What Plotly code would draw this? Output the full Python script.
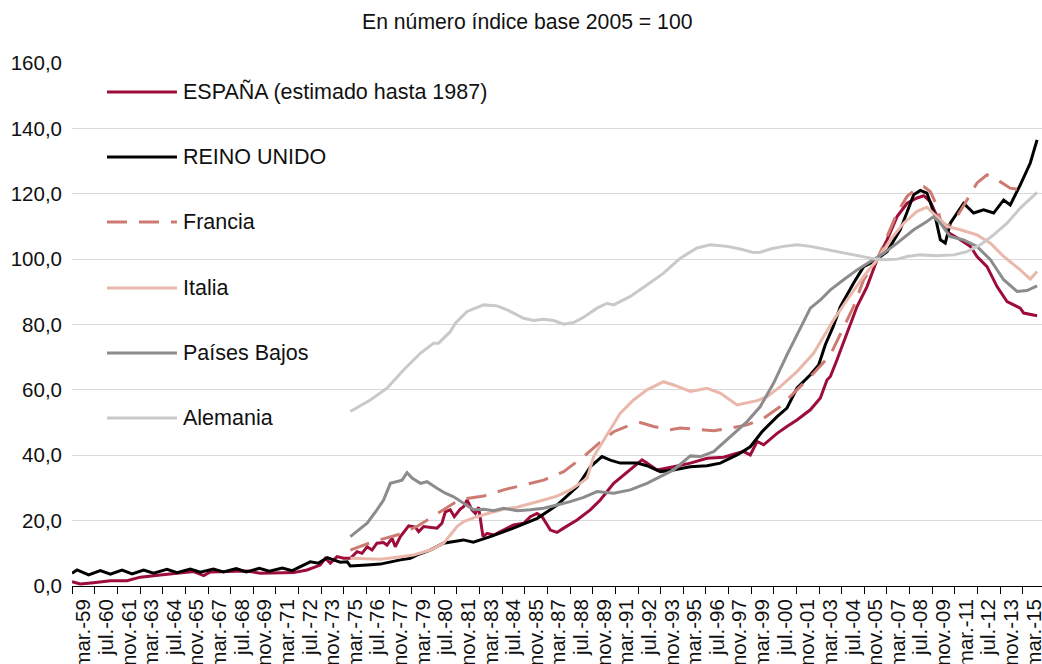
import plotly.graph_objects as go

# ---------------- data (time as decimal year, value = index 2005=100) ----------------
espana = [
    (1958.48, 1.3), (1958.97, 0.6), (1959.75, 1.0), (1960.74, 1.6), (1961.72, 1.6),
    (1962.51, 2.7), (1963.69, 3.4), (1964.67, 3.9), (1965.65, 4.4), (1966.24, 3.2),
    (1966.63, 4.3), (1967.62, 4.4), (1968.79, 4.6), (1969.58, 3.9), (1970.56, 3.9),
    (1971.54, 4.1), (1972.33, 4.9), (1973.11, 6.4), (1973.41, 8.5), (1973.70, 7.0),
    (1974.10, 9.0), (1974.49, 8.5), (1974.88, 8.5), (1975.28, 10.5), (1975.57, 10.0),
    (1975.87, 12.0), (1976.16, 11.0), (1976.45, 13.1), (1976.84, 13.3), (1977.04, 12.5),
    (1977.34, 14.6), (1977.53, 12.0), (1977.83, 15.1), (1978.32, 18.4), (1978.71, 18.0),
    (1978.91, 16.6), (1979.20, 18.2), (1979.60, 18.0), (1979.99, 17.7), (1980.28, 19.2),
    (1980.48, 22.7), (1980.77, 23.3), (1981.01, 21.2), (1981.36, 23.5), (1981.56, 24.3),
    (1981.76, 26.3), (1982.05, 23.3), (1982.25, 22.2), (1982.44, 24.1), (1982.70, 15.1),
    (1982.94, 16.1), (1983.33, 15.6), (1983.91, 17.1), (1984.50, 18.7), (1985.09, 19.2),
    (1985.49, 21.2), (1985.88, 22.2), (1986.18, 21.2), (1986.67, 17.1), (1987.06, 16.4),
    (1987.45, 17.7), (1988.24, 20.2), (1989.02, 23.3), (1989.61, 26.3), (1990.40, 31.4),
    (1991.38, 35.5), (1992.07, 38.6), (1992.36, 37.6), (1992.95, 35.5), (1993.93, 36.5),
    (1994.92, 37.6), (1995.90, 39.1), (1996.88, 39.4), (1997.67, 40.6), (1998.06, 41.1),
    (1998.45, 40.1), (1998.85, 44.2), (1999.24, 43.2), (2000.03, 46.7), (2000.61, 48.8),
    (2001.20, 50.8), (2001.99, 53.9), (2002.58, 57.5), (2002.97, 63.0), (2003.17, 64.1),
    (2003.56, 69.2), (2004.15, 77.3), (2004.74, 85.5), (2005.33, 91.6), (2005.92, 99.8),
    (2006.51, 105.9), (2007.10, 113.0), (2007.69, 117.1), (2008.28, 118.7), (2008.67, 119.4),
    (2009.06, 117.6), (2009.46, 113.0), (2010.04, 108.4), (2010.83, 105.9), (2011.42, 103.9),
    (2011.81, 100.8), (2012.40, 97.7), (2012.99, 91.6), (2013.58, 87.0), (2014.36, 85.0),
    (2014.56, 83.5), (2015.35, 82.7),
]

reino_unido = [
    (1958.48, 3.9), (1958.78, 4.9), (1959.46, 3.4), (1960.15, 4.7), (1960.74, 3.6),
    (1961.43, 4.9), (1962.02, 3.7), (1962.70, 4.9), (1963.29, 3.9), (1964.08, 5.1),
    (1964.67, 4.1), (1965.45, 5.2), (1966.04, 4.2), (1966.81, 5.2), (1967.40, 4.3),
    (1968.16, 5.3), (1968.75, 4.3), (1969.52, 5.4), (1970.11, 4.5), (1970.87, 5.5),
    (1971.46, 4.7), (1971.93, 5.8), (1972.52, 7.4), (1973.00, 7.0), (1973.53, 8.7),
    (1973.88, 8.0), (1974.29, 7.3), (1974.70, 7.4), (1974.88, 6.1), (1975.88, 6.4),
    (1976.65, 6.7), (1977.83, 8.0), (1978.42, 8.5), (1978.83, 9.5), (1979.59, 11.0),
    (1980.36, 13.1), (1981.54, 14.1), (1982.13, 13.4), (1983.13, 15.1), (1984.49, 17.7),
    (1985.90, 20.7), (1987.08, 24.8), (1988.26, 30.4), (1989.03, 36.5), (1989.71, 39.6),
    (1990.20, 38.5), (1990.79, 37.6), (1991.78, 37.6), (1992.36, 36.8), (1993.15, 35.0),
    (1993.93, 35.5), (1994.91, 36.5), (1995.90, 36.8), (1996.68, 37.6), (1997.67, 40.1),
    (1998.45, 42.6), (1999.14, 47.2), (2000.03, 51.8), (2000.61, 54.4), (2001.20, 60.5),
    (2001.99, 64.6), (2002.48, 67.6), (2002.87, 73.8), (2003.34, 79.4), (2003.76, 85.5),
    (2004.54, 92.7), (2005.13, 97.7), (2005.72, 99.3), (2006.51, 102.3), (2007.29, 109.0),
    (2008.08, 119.7), (2008.47, 121.0), (2008.86, 120.2), (2009.35, 113.0), (2009.65, 105.9),
    (2009.94, 104.9), (2010.24, 111.0), (2011.02, 117.1), (2011.61, 114.1), (2012.20, 115.1),
    (2012.79, 114.1), (2013.38, 118.1), (2013.77, 116.6), (2014.36, 122.7), (2014.95, 129.4),
    (2015.35, 136.5),
]

francia = [
    (1974.88, 11.0), (1976.25, 13.6), (1977.63, 15.6), (1978.81, 18.2), (1980.18, 22.7),
    (1980.97, 25.3), (1981.76, 26.8), (1982.74, 27.5), (1983.91, 29.4), (1985.09, 30.9),
    (1986.27, 32.4), (1987.45, 35.0), (1988.63, 39.6), (1989.42, 43.2), (1990.40, 47.2),
    (1991.38, 49.3), (1991.97, 50.0), (1992.75, 48.8), (1993.74, 47.8), (1994.33, 48.3),
    (1995.31, 47.8), (1996.29, 47.5), (1997.28, 48.3), (1998.26, 49.3), (1999.24, 51.3),
    (2000.22, 54.9), (2001.20, 60.0), (2002.18, 65.1), (2003.17, 70.7), (2003.76, 77.3),
    (2004.54, 85.5), (2005.13, 93.7), (2005.92, 99.8), (2006.51, 106.9), (2007.10, 114.1),
    (2007.69, 119.2), (2008.28, 121.7), (2008.67, 122.2), (2009.06, 120.7), (2009.46, 116.1),
    (2009.65, 112.0), (2010.04, 110.0), (2010.63, 113.0), (2011.22, 118.1), (2011.81, 123.3),
    (2012.40, 125.8), (2012.99, 124.3), (2013.77, 121.7), (2014.36, 121.2), (2014.76, 120.2),
]

italia = [
    (1974.88, 8.5), (1976.65, 8.2), (1977.63, 8.8), (1978.61, 9.5), (1979.60, 11.0),
    (1980.38, 13.1), (1980.77, 15.6), (1981.17, 18.2), (1981.56, 19.7), (1982.35, 21.2),
    (1983.13, 22.4), (1983.91, 23.5), (1984.70, 24.1), (1985.49, 25.1), (1986.27, 26.3),
    (1987.06, 27.5), (1987.84, 29.4), (1988.43, 31.4), (1988.83, 33.0), (1989.22, 39.6),
    (1989.81, 44.7), (1990.40, 49.8), (1990.79, 52.9), (1991.57, 56.9), (1992.36, 60.0),
    (1993.34, 62.5), (1993.93, 61.5), (1994.92, 59.5), (1995.90, 60.5), (1996.68, 59.0),
    (1997.67, 55.4), (1998.85, 56.7), (1999.44, 57.9), (2000.22, 61.0), (2001.20, 65.6),
    (2002.18, 71.2), (2002.58, 74.8), (2003.36, 81.4), (2004.15, 87.5), (2005.13, 94.7),
    (2005.92, 99.8), (2006.70, 105.9), (2007.49, 111.0), (2008.28, 114.6), (2008.86, 115.9),
    (2009.46, 113.0), (2010.04, 110.0), (2010.83, 109.0), (2011.81, 107.4), (2012.60, 104.9),
    (2013.38, 100.8), (2014.36, 96.7), (2014.95, 93.9), (2015.35, 96.2),
]

paises_bajos = [
    (1974.88, 15.1), (1975.87, 19.2), (1976.45, 23.3), (1976.84, 26.3), (1977.24, 31.4),
    (1977.63, 31.9), (1977.93, 32.4), (1978.22, 34.7), (1978.52, 33.0), (1979.01, 31.4),
    (1979.40, 31.9), (1979.99, 29.9), (1980.48, 28.4), (1980.97, 27.3), (1981.56, 25.3),
    (1982.15, 23.3), (1982.74, 23.5), (1983.33, 23.0), (1983.91, 23.8), (1984.70, 23.0),
    (1985.49, 23.3), (1986.27, 23.8), (1987.06, 24.8), (1987.84, 25.8), (1988.63, 27.1),
    (1989.42, 28.9), (1990.40, 28.4), (1991.38, 29.4), (1992.36, 31.4), (1993.15, 33.5),
    (1993.93, 35.5), (1994.92, 39.8), (1995.51, 39.6), (1996.29, 41.1), (1997.28, 45.7),
    (1998.26, 50.3), (1999.04, 54.9), (1999.82, 62.0), (2000.61, 70.7), (2001.40, 78.9),
    (2001.99, 85.0), (2002.58, 87.5), (2003.17, 90.6), (2003.95, 93.7), (2004.74, 96.7),
    (2005.53, 99.3), (2006.31, 101.8), (2007.10, 104.9), (2008.08, 109.0), (2008.86, 111.5),
    (2009.25, 113.0), (2009.65, 111.0), (2010.24, 106.9), (2011.02, 105.9), (2011.81, 103.9),
    (2012.60, 99.8), (2013.38, 93.7), (2014.17, 90.1), (2014.76, 90.4), (2015.35, 91.8),
]

alemania = [
    (1974.88, 53.4), (1976.06, 56.9), (1977.04, 60.5), (1978.02, 66.1), (1979.01, 71.2),
    (1979.79, 74.3), (1980.08, 74.3), (1980.77, 77.8), (1981.07, 80.4), (1981.76, 84.0),
    (1982.74, 86.0), (1983.53, 85.7), (1984.12, 84.5), (1985.09, 81.9), (1985.68, 81.2),
    (1986.27, 81.6), (1986.86, 81.2), (1987.45, 80.1), (1988.04, 80.6), (1988.63, 82.2),
    (1989.42, 85.0), (1990.01, 86.5), (1990.40, 86.0), (1991.38, 88.6), (1992.36, 92.1),
    (1993.34, 95.7), (1994.33, 100.3), (1995.31, 103.4), (1996.09, 104.4), (1997.08, 103.9),
    (1997.86, 103.1), (1998.65, 102.0), (1999.04, 102.1), (1999.63, 103.1), (2000.41, 103.9),
    (2001.20, 104.4), (2001.99, 103.9), (2002.97, 102.9), (2003.56, 102.3), (2004.54, 101.3),
    (2005.53, 100.3), (2006.31, 99.8), (2007.10, 100.0), (2007.69, 100.8), (2008.47, 101.3),
    (2009.46, 101.0), (2010.44, 101.3), (2011.22, 102.3), (2012.01, 104.4), (2012.79, 107.4),
    (2013.58, 111.0), (2014.36, 115.6), (2015.35, 120.4),
]

tick_labels = [
    "mar.-59", "jul.-60", "nov.-61", "mar.-63", "jul.-64", "nov.-65", "mar.-67", "jul.-68",
    "nov.-69", "mar.-71", "jul.-72", "nov.-73", "mar.-75", "jul.-76", "nov.-77", "mar.-79",
    "jul.-80", "nov.-81", "mar.-83", "jul.-84", "nov.-85", "mar.-87", "jul.-88", "nov.-89",
    "mar.-91", "jul.-92", "nov.-93", "mar.-95", "jul.-96", "nov.-97", "mar.-99", "jul.-00",
    "nov.-01", "mar.-03", "jul.-04", "nov.-05", "mar.-07", "jul.-08", "nov.-09", "mar.-11",
    "jul.-12", "nov.-13", "mar.-15",
]
y_ticks = [0, 20, 40, 60, 80, 100, 120, 140, 160]
y_tick_text = ["0,0", "20,0", "40,0", "60,0", "80,0", "100,0", "120,0", "140,0", "160,0"]

series_names = ["ESPAÑA (estimado hasta 1987)", "REINO UNIDO", "Francia", "Italia",
                "Países Bajos", "Alemania"]
series_data = [espana, reino_unido, francia, italia, paises_bajos, alemania]
series_colors = ["#9E0C39", "#000000", "#CD7B72", "#EAB8AB", "#8C8C8C", "#C9C9C9"]
series_dash = ["solid", "solid", "20px,12px", "solid", "solid", "solid"]

# ---------------- figure ----------------
FONT = "Liberation Sans, Arial, sans-serif"
fig = go.Figure()
for name, pts, col, dash in zip(series_names, series_data, series_colors, series_dash):
    fig.add_trace(go.Scatter(
        x=[p[0] for p in pts], y=[p[1] for p in pts], mode="lines", name=name,
        line=dict(color=col, width=3, dash=dash), showlegend=False,
    ))

# tick positions: labels at their month, tick marks between labels
label_pos = [1959 + 2 / 12 + k * 16 / 12 for k in range(len(tick_labels))]
mark_pos = [p - 8 / 12 for p in label_pos]

# manual legend with long line samples
legend_rows = [0.9446, 0.8203, 0.696, 0.5698, 0.4455, 0.3212]
shapes, annotations = [], []
for name, col, dash, yy in zip(series_names, series_colors, series_dash, legend_rows):
    shapes.append(dict(type="line", xref="paper", yref="paper", x0=0.0361, x1=0.1082,
                       y0=yy, y1=yy, line=dict(color=col, width=3, dash=dash)))
    annotations.append(dict(xref="paper", yref="paper", x=0.1124, y=yy, text=name,
                            showarrow=False, xanchor="left", yanchor="middle",
                            font=dict(family=FONT, size=21.5, color="#111111")))

fig.update_layout(
    width=1042, height=664,
    margin=dict(l=72, r=0, t=63, b=78, autoexpand=False),
    paper_bgcolor="white", plot_bgcolor="white",
    font=dict(family=FONT, size=20.5, color="#111111"),
    title=dict(text="En número índice base 2005 = 100", x=0.506, xanchor="center",
               y=1 - 22 / 664, yanchor="middle", font=dict(family=FONT, size=21.2, color="#111111")),
    shapes=shapes, annotations=annotations,
    xaxis=dict(
        range=[1958.48, 2015.64], showgrid=False, zeroline=False, automargin=False,
        showline=True, linecolor="#000000", linewidth=1,
        tickmode="array", tickvals=label_pos, ticktext=tick_labels,
        tickangle=-90, ticks="", ticklabelstandoff=4, ticklabeloverflow="allow",
        tickfont=dict(family=FONT, size=20.5, color="#111111"),
        minor=dict(tickmode="array", tickvals=mark_pos, ticks="outside", ticklen=7,
                   tickcolor="#000000", tickwidth=1, showgrid=False),
    ),
    yaxis=dict(
        range=[0, 160], tickmode="array", tickvals=y_ticks, ticktext=y_tick_text,
        showgrid=True, gridcolor="#D9D9D9", gridwidth=1.3, zeroline=False, automargin=False,
        showline=False, ticks="", ticklabelstandoff=9,
        tickfont=dict(family=FONT, size=20.5, color="#111111"),
    ),
)

fig.write_html("out.html", config={"displayModeBar": False},
               post_script="document.body.style.margin='0px';")
